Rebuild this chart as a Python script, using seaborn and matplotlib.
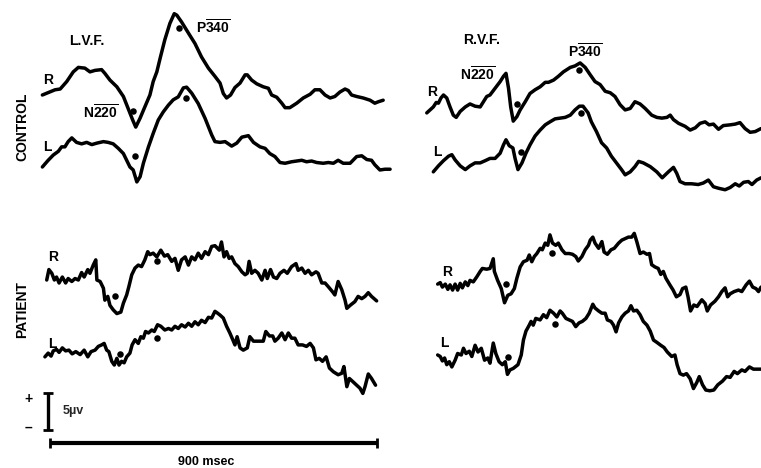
import pandas as pd
import seaborn as sns
import matplotlib.pyplot as plt

# Averaged evoked potentials, time in msec, amplitude in microvolts (positive up).
# Each trace is given relative to its own starting level.

# CONTROL, left visual field
ctrl_lvf_r_t = [-21, 14, 28, 46, 64, 78, 96, 110, 124, 142, 151, 165, 184, 202, 215, 228, 236, 248, 261, 275,
                284, 294, 303, 316, 330, 342, 349, 362, 381, 399, 417, 436, 454, 468, 477, 486, 497, 509, 523, 537,
                543, 555, 569, 587, 601, 610, 624, 638, 647, 660, 679, 697, 716, 729, 743, 757, 771, 784, 798, 812,
                821, 830, 844, 862, 881, 894, 904, 917]
ctrl_lvf_r_uv = [0, 0.7, 0.8, 1.8, 3.1, 3.7, 3.6, 3.1, 3.3, 3.4, 2.9, 2.0, 1.1, -0.2, -1.8, -3.4, -4.3, -3.1, -1.6, 0,
                 1.8, 3.1, 4.9, 7.4, 9.6, 10.9, 10.7, 9.8, 8.3, 6.9, 5.1, 3.6, 2.5, 1.6, 0.2, -0.4, 0, 1.0, 1.6, 2.7,
                 2.7, 2.0, 1.5, 1.1, 0.9, 0, -0.3, -1.1, -1.7, -1.7, -1.1, -0.4, 0.1, 0.7, 0.7, 0, -0.4, -0.2, 0.4, 0.8,
                 0.6, 0, -0.2, -0.4, -0.7, -1.1, -0.9, -0.7]
ctrl_lvf_l_t = [-21, -5, 9, 23, 32, 41, 50, 60, 73, 87, 101, 115, 129, 147, 160, 174, 188, 202, 211, 220,
                229, 239, 248, 257, 271, 284, 298, 312, 326, 339, 353, 367, 376, 390, 408, 427, 445, 454, 468, 482,
                500, 514, 528, 546, 560, 578, 592, 605, 619, 633, 647, 665, 679, 693, 706, 720, 734, 752, 766, 780,
                793, 807, 826, 844, 858, 872, 885, 894, 908, 922, 936]
ctrl_lvf_l_uv = [0, 0.9, 1.6, 2.1, 2.7, 2.7, 3.4, 3.9, 3.3, 3.1, 3.3, 3.0, 3.2, 3.4, 3.3, 3.1, 2.5, 1.8, 0.9, 0,
                 -0.4, -2.0, -1.3, 0.5, 2.7, 4.5, 6.3, 7.4, 8.3, 9.0, 9.4, 10.6, 10.7, 9.9, 8.5, 6.5, 4.3, 3.4, 3.3, 3.4,
                 2.8, 3.2, 4.0, 4.2, 3.3, 2.7, 2.5, 1.8, 1.4, 0.6, 0.5, 0.7, 0.8, 0.9, 0.7, 0.8, 0.6, 0.5, 0.6, 0.5,
                 0.9, 0.5, 0.5, 1.4, 1.5, 1.0, 0.9, 0.3, -0.4, -0.3, -0.3]

# CONTROL, right visual field
ctrl_rvf_r_t = [-23, -14, -5, 3, 9, 16, 23, 32, 41, 50, 58, 69, 83, 96, 110, 124, 133, 142, 151, 165,
                179, 188, 195, 202, 208, 215, 225, 234, 248, 261, 275, 289, 303, 312, 326, 339, 353, 372, 385, 399,
                413, 427, 440, 454, 468, 482, 495, 509, 523, 537, 550, 564, 578, 596, 610, 624, 638, 647, 656, 670,
                688, 702, 716, 729, 743, 754, 766, 780, 793, 812, 826, 839, 853, 867, 881, 897]
ctrl_rvf_r_uv = [0, 0.4, 0.8, 1.4, 1.3, 2.0, 2.4, 2.0, 0.8, -0.3, -0.6, 0.2, 0.8, 1.2, 0.9, 0.8, 1.5, 2.2, 2.4, 3.3,
                 4.2, 4.9, 5.3, 3.3, 0.8, -1.1, -0.5, 0.4, 1.5, 2.6, 3.1, 3.5, 4.1, 4.1, 4.4, 4.9, 5.5, 6.1, 6.3, 6.7,
                 6.1, 5.1, 4.2, 3.8, 2.9, 2.7, 2.2, 1.1, 0.4, 0.6, 1.5, 1.2, 0.6, -0.3, -0.6, -0.7, -0.6, -0.3, -0.9, -1.4,
                 -1.8, -2.3, -2.0, -1.4, -1.2, -1.6, -1.5, -2.2, -1.7, -1.6, -1.5, -1.3, -2.1, -2.6, -2.5, -2.1]
ctrl_rvf_l_t = [-5, 9, 23, 37, 46, 55, 69, 83, 96, 110, 124, 138, 151, 165, 179, 188, 195, 204, 214, 220,
                228, 239, 250, 261, 275, 289, 303, 316, 330, 344, 358, 372, 385, 397, 407, 421, 430, 444, 458, 472,
                485, 499, 513, 523, 537, 550, 560, 573, 592, 610, 625, 642, 656, 665, 674, 688, 706, 724, 738, 752,
                766, 780, 798, 812, 826, 837, 849, 862, 872, 885, 897]
ctrl_rvf_l_uv = [0, 0.8, 1.5, 2.1, 2.3, 1.6, 0.8, 0.3, 0.8, 1.2, 1.2, 1.5, 1.8, 1.8, 2.5, 3.6, 4.3, 3.5, 3.2, 1.8,
                 0.3, 1.2, 2.5, 3.6, 4.8, 5.6, 6.3, 6.7, 7.1, 7.2, 7.3, 7.6, 8.3, 8.8, 8.8, 7.9, 6.7, 5.4, 3.9, 3.2,
                 2.1, 1.2, 0.3, -0.4, 0, 0.7, 1.4, 1.2, 0.7, 0, -0.8, 0, 0.6, -0.2, -1.3, -1.6, -1.6, -1.7, -1.5, -1.1,
                 -2.0, -2.2, -2.4, -2.1, -1.6, -1.9, -1.4, -1.3, -1.7, -1.1, -0.8]

# PATIENT, left visual field
pat_lvf_r_t = [-9, -3, 5, 12, 18, 25, 34, 43, 50, 60, 69, 78, 87, 94, 104, 110, 119, 126, 129, 138,
               147, 151, 159, 165, 174, 184, 195, 202, 211, 217, 225, 234, 243, 252, 261, 269, 275, 284, 294, 305,
               315, 324, 335, 344, 353, 362, 372, 381, 390, 399, 408, 417, 427, 436, 445, 454, 466, 472, 479, 486,
               493, 500, 509, 518, 528, 537, 543, 548, 555, 564, 573, 583, 592, 598, 607, 615, 624, 633, 644, 653,
               665, 677, 683, 693, 702, 711, 720, 732, 738, 748, 757, 766, 778, 784, 793, 803, 812, 817, 826, 839,
               848, 858, 867, 876, 885, 899]
pat_lvf_r_uv = [0, 1.4, 0.9, 0, 0.4, -0.4, 0.4, -0.4, 0.2, -0.2, 0.2, 0, 1.0, 0.4, 1.4, 0.9, 2.0, 2.7, 0, -0.2,
                -1.1, -2.7, -2.2, -3.4, -4.0, -4.5, -4.3, -3.1, -2.0, -0.9, 0.7, 1.6, 2.0, 1.8, 2.7, 3.8, 3.4, 3.6, 3.1, 4.0,
                3.2, 3.4, 2.5, 2.9, 1.3, 2.7, 3.1, 2.0, 3.1, 2.7, 3.6, 2.9, 3.8, 3.4, 4.5, 4.6, 4.0, 5.1, 3.1, 3.8,
                2.9, 3.1, 2.2, 1.8, 1.1, 0.7, 0.9, 2.5, 0.9, 1.3, 0.9, 0, 1.3, 0.2, 1.4, 0.4, 0.2, 0.9, 1.3, 0.9,
                1.8, 2.2, 1.3, 1.6, 0.9, 1.3, 0.7, 1.1, 0.9, -0.4, -0.4, -0.9, -1.6, -2.0, -0.2, -1.3, -2.7, -3.8, -3.4, -2.9,
                -2.2, -2.5, -2.2, -1.7, -2.2, -2.8]
pat_lvf_l_t = [-14, -5, 3, 9, 18, 25, 34, 43, 52, 61, 71, 83, 94, 104, 113, 124, 133, 142, 149, 156,
               162, 170, 177, 184, 190, 197, 204, 211, 220, 226, 234, 243, 250, 257, 263, 271, 280, 287, 296, 305,
               316, 326, 335, 344, 353, 362, 372, 381, 390, 399, 408, 417, 427, 436, 445, 454, 460, 468, 477, 486,
               495, 503, 509, 515, 523, 532, 543, 550, 560, 573, 587, 594, 604, 613, 619, 628, 638, 647, 656, 665,
               674, 683, 695, 706, 716, 725, 732, 741, 750, 760, 769, 780, 793, 803, 809, 817, 824, 833, 844, 853,
               861, 867, 876, 885, 896]
pat_lvf_l_uv = [0, 0.5, 0.1, 0.8, 1.0, 0.6, 1.2, 0.8, 0.9, 0.4, 0.7, 0.3, 0.9, 0, 0.7, 0.9, 1.4, 1.6, 1.8, 0.9,
                0.7, -0.6, -1.1, -0.2, -1.1, -0.6, -0.8, 0, 0.5, 1.6, 2.3, 1.8, 2.7, 2.5, 3.4, 3.2, 3.6, 3.4, 4.3, 4.1,
                3.6, 3.8, 3.6, 4.1, 3.8, 4.3, 4.0, 4.5, 4.1, 4.7, 4.3, 4.9, 4.6, 5.3, 5.2, 6.1, 5.9, 5.6, 5.2, 4.1,
                3.2, 2.3, 1.6, 2.7, 1.2, 0.9, 1.2, 2.7, 2.1, 2.1, 2.1, 3.4, 2.8, 2.8, 2.1, 2.5, 3.2, 2.3, 3.2, 2.5,
                2.5, 1.6, 1.6, 1.4, 1.8, 1.2, -0.4, -0.2, -0.6, 0, -1.5, -2.0, -2.4, -2.2, -1.3, -4.0, -2.9, -3.3, -3.8, -4.2,
                -4.9, -4.0, -2.3, -2.9, -3.8]

# PATIENT, right visual field
pat_rvf_r_t = [7, 14, 20, 28, 35, 41, 48, 55, 62, 69, 75, 83, 90, 96, 105, 115, 124, 130, 142, 151,
               160, 163, 172, 182, 191, 200, 209, 218, 225, 234, 243, 253, 259, 266, 273, 280, 289, 295, 303, 310,
               316, 323, 332, 339, 349, 358, 369, 378, 387, 394, 404, 413, 422, 427, 434, 440, 450, 459, 465, 474,
               484, 493, 505, 514, 523, 532, 541, 548, 555, 564, 573, 583, 590, 596, 605, 614, 621, 628, 635, 646,
               655, 664, 674, 681, 690, 696, 703, 712, 721, 734, 743, 749, 758, 770, 780, 789, 798, 805, 812, 823,
               835, 844, 856, 865, 874, 883, 890, 897]
pat_rvf_r_uv = [0, 0.2, -0.4, 0, -0.7, -0.1, -0.8, 0, -0.8, 0.1, -0.5, 0.3, -0.2, 0.5, 0.3, 1.0, 1.7, 2.1, 2.0, 2.1,
                3.4, 1.7, 0.5, -0.6, -2.5, -1.5, -1.3, -0.6, 0.8, 2.3, 3.0, 3.2, 3.9, 3.0, 3.7, 4.1, 4.8, 4.6, 5.5, 5.2,
                6.6, 5.5, 5.2, 5.5, 4.6, 4.1, 4.1, 4.0, 3.7, 3.1, 3.7, 4.6, 5.2, 5.9, 6.3, 5.5, 4.8, 5.7, 4.3, 4.0,
                4.6, 4.8, 5.5, 5.9, 6.1, 6.3, 6.3, 6.8, 5.7, 4.1, 4.3, 4.0, 4.1, 2.6, 2.3, 2.1, 1.3, 1.7, 0.8, -0.1,
                -0.8, -1.7, -1.4, -0.6, -0.4, -1.7, -3.6, -2.8, -3.0, -2.1, -2.6, -3.6, -2.8, -2.3, -1.7, -1.0, -0.5, -1.7, -1.3, -1.0,
                -0.8, -1.0, -0.1, 0.4, -0.4, -0.6, -1.0, -0.4]
pat_rvf_l_t = [7, 14, 20, 26, 32, 39, 46, 55, 62, 72, 78, 85, 94, 101, 110, 118, 127, 136, 145, 151,
               160, 167, 176, 185, 193, 199, 206, 215, 228, 237, 243, 250, 259, 264, 270, 277, 289, 298, 307, 316,
               326, 335, 344, 350, 360, 369, 378, 387, 396, 405, 415, 424, 434, 440, 450, 459, 468, 474, 484, 491,
               498, 505, 514, 523, 532, 539, 546, 555, 564, 573, 583, 592, 601, 610, 621, 630, 639, 651, 660, 666,
               674, 683, 692, 702, 711, 720, 727, 736, 745, 756, 767, 778, 791, 802, 812, 823, 832, 844, 853, 865,
               876, 897]
pat_rvf_l_uv = [0, -0.2, -0.8, -0.4, -1.3, -0.9, -1.6, -0.7, 0.2, 0, 0.9, 0.2, 0.5, -0.2, 1.3, 0.4, 0.9, -0.7, -0.4, -1.1,
                1.6, 0.2, -0.9, -1.3, -0.9, -2.6, -2.0, -1.8, -1.3, 0, 2.0, 3.2, 4.0, 4.5, 4.0, 4.9, 4.7, 5.4, 5.0, 6.0,
                5.6, 5.1, 5.9, 5.6, 4.9, 4.7, 4.5, 3.8, 4.3, 4.5, 4.9, 5.6, 6.8, 6.3, 5.9, 5.6, 5.6, 4.7, 4.5, 4.0,
                3.1, 4.3, 5.1, 5.6, 5.9, 6.6, 5.9, 6.0, 5.4, 4.5, 4.0, 3.2, 2.0, 1.7, 1.3, 1.0, 0.4, -0.2, 0, -1.3,
                -2.5, -2.7, -2.5, -3.2, -4.5, -3.7, -2.9, -4.0, -4.7, -4.8, -4.7, -4.0, -3.5, -2.9, -3.0, -2.2, -2.5, -2.0, -2.2, -1.6,
                -1.9, -1.9]

# N220 and P340 markers, one per trace, same order as `traces` below
n220_t = [228, 234, 225, 237, 178, 193, 195, 200]
n220_uv = [-2.1, 1.5, 1.2, 2.7, -2.1, 0.4, 0.0, -0.3]
p340_t = [355, 373, 397, 401, 294, 294, 321, 329]
p340_uv = [9.0, 9.3, 5.7, 7.9, 2.6, 2.5, 4.2, 4.2]

traces = [
    ("CONTROL", "LVF", "R", ctrl_lvf_r_t, ctrl_lvf_r_uv),
    ("CONTROL", "LVF", "L", ctrl_lvf_l_t, ctrl_lvf_l_uv),
    ("CONTROL", "RVF", "R", ctrl_rvf_r_t, ctrl_rvf_r_uv),
    ("CONTROL", "RVF", "L", ctrl_rvf_l_t, ctrl_rvf_l_uv),
    ("PATIENT", "LVF", "R", pat_lvf_r_t, pat_lvf_r_uv),
    ("PATIENT", "LVF", "L", pat_lvf_l_t, pat_lvf_l_uv),
    ("PATIENT", "RVF", "R", pat_rvf_r_t, pat_rvf_r_uv),
    ("PATIENT", "RVF", "L", pat_rvf_l_t, pat_rvf_l_uv),
]

# --- page layout: one sheet in msec x microvolts, traces stacked with offsets ---
MS_PER_PX = 900 / 327
PX_PER_UV = 7.46
X_LIM = (-50 * MS_PER_PX, 711 * MS_PER_PX)
Y_LIM = (0, 468 / PX_PER_UV)
field_shift = {"LVF": 0, "RVF": 1060}
baseline = {
    ("CONTROL", "LVF", "R"): 50.0, ("CONTROL", "LVF", "L"): 40.35,
    ("CONTROL", "RVF", "R"): 47.6, ("CONTROL", "RVF", "L"): 39.7,
    ("PATIENT", "LVF", "R"): 25.2, ("PATIENT", "LVF", "L"): 14.9,
    ("PATIENT", "RVF", "R"): 24.65, ("PATIENT", "RVF", "L"): 15.15,
}

rows, marks = [], []
for i, (group, field, side, t, uv) in enumerate(traces):
    key = (group, field, side)
    df_tr = pd.DataFrame({"t": t, "uv": uv})
    df_tr["x"] = df_tr["t"] + field_shift[field]
    df_tr["y"] = df_tr["uv"] + baseline[key]
    df_tr["trace"] = i
    rows.append(df_tr)
    for tt, vv in [(n220_t[i], n220_uv[i]), (p340_t[i], p340_uv[i])]:
        marks.append({"x": tt + field_shift[field], "y": vv + baseline[key]})
df = pd.concat(rows, ignore_index=True)
df_marks = pd.DataFrame(marks)

sns.set_theme(style="white")
plt.rcParams["font.family"] = ["Liberation Sans", "DejaVu Sans"]
plt.rcParams["mathtext.fontset"] = "custom"
plt.rcParams["mathtext.rm"] = "Liberation Sans"
plt.rcParams["mathtext.bf"] = "Liberation Sans:bold"
plt.rcParams["lines.solid_joinstyle"] = "round"
plt.rcParams["lines.solid_capstyle"] = "round"

fig = plt.figure(figsize=(7.61, 4.68), dpi=100)
ax = fig.add_axes([0, 0, 1, 1])

sns.lineplot(data=df, x="x", y="y", units="trace", estimator=None, sort=False,
             color="black", linewidth=2.5, legend=False, ax=ax)
sns.scatterplot(data=df_marks, x="x", y="y", color="black", s=22, linewidth=0, ax=ax)

txt = dict(fontweight="bold", color="black", ha="center", va="center")
ax.text(102, 57.2, "L.V.F.", fontsize=10, **txt)
ax.text(1189, 57.4, "R.V.F.", fontsize=10, **txt)
ax.text(449, 59.1, r"$\mathbf{P}\overline{\mathbf{340}}$", fontsize=10, **txt)
ax.text(138, 47.6, r"$\mathbf{N}\overline{\mathbf{220}}$", fontsize=10, **txt)
ax.text(1178, 52.7, r"$\mathbf{N}\overline{\mathbf{220}}$", fontsize=10, **txt)
ax.text(1473, 55.8, r"$\mathbf{P}\overline{\mathbf{340}}$", fontsize=10, **txt)

side_labels = [("R", -6, 52.0), ("L", -8, 43.0), ("R", 1051, 50.4), ("L", 1066, 42.3),
               ("R", 9, 28.3), ("L", 5, 16.6), ("R", 1092, 26.3), ("L", 1085, 16.7)]
for lab, x, y in side_labels:
    ax.text(x, y, lab, fontsize=10, **txt)

ax.text(-77, 45.7, "CONTROL", fontsize=10, rotation=90, **txt)
ax.text(-77, 21.2, "PATIENT", fontsize=10, rotation=90, **txt)

# calibration: 5 microvolts and 900 msec
ax.errorbar(-6, 7.6, yerr=2.5, fmt="none", ecolor="black", elinewidth=2.4, capsize=3.5, capthick=2)
ax.errorbar(450, 3.3, xerr=450, fmt="none", ecolor="black", elinewidth=3, capsize=3.8, capthick=2)
ax.text(-60, 9.2, "+", fontsize=10, **txt)
ax.text(-60, 5.4, "\u2013", fontsize=10, **txt)
ax.text(36, 7.6, "5\u00b5v", fontsize=9, fontweight="bold", ha="left", va="center")
ax.text(431, 0.85, "900 msec", fontsize=9, **txt)

ax.set_xlim(*X_LIM)
ax.set_ylim(*Y_LIM)
ax.set_axis_off()

fig.savefig("out.png", dpi=100, facecolor="white")
